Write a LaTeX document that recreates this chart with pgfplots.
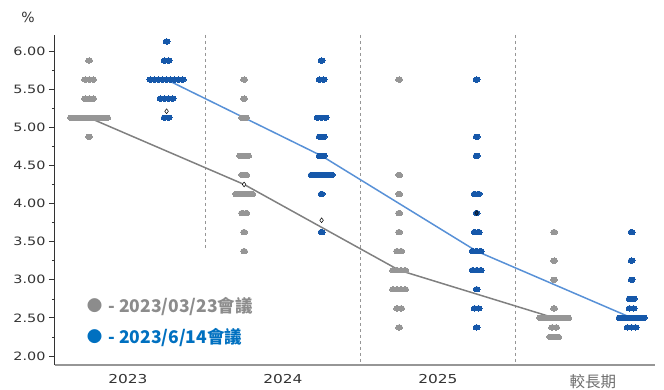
\documentclass[border=0pt]{standalone}
\usepackage{pgfplots}
\pgfplotsset{compat=1.18}
\usepackage{fontspec}
\setmainfont{DejaVu Sans}
\newfontfamily\tickfont[FakeStretch=1.25]{DejaVu Sans}
\newfontfamily\cjk{Noto Sans CJK TC}
\definecolor{dotgray}{RGB}{150,150,150}
\definecolor{dotblue}{RGB}{22,88,170}
\definecolor{linegray}{RGB}{128,128,128}
\definecolor{lineblue}{RGB}{88,145,215}
\definecolor{leggray}{RGB}{140,140,140}
\definecolor{legblue}{RGB}{0,112,192}
\definecolor{txt}{RGB}{51,51,51}
\definecolor{lrgray}{RGB}{110,110,110}
\begin{document}
\begin{tikzpicture}
\path[use as bounding box] (-55bp,-25bp) rectangle (609bp,365bp);
\begin{axis}[
  at={(0,0)}, anchor=south west,
  scale only axis, width=600bp, height=330bp,
  xmin=0.53, xmax=4.401, ymin=1.882, ymax=6.21,
  axis x line=bottom, axis y line=left,
  x axis line style={draw=dotgray, line width=1.2bp, -},
  y axis line style={draw=txt, line width=1bp, -},
  clip=false,
  xtick={1,2,3,4},
  xticklabels={2023,2024,2025,{\raisebox{2bp}{\cjk\fontsize{15.5bp}{17bp}\selectfont\color{lrgray}較長期}}},
  xtick style={draw=none},
  xticklabel style={font=\tickfont\fontsize{12.3bp}{14bp}\selectfont, text=txt},
  ytick={2,2.5,3,3.5,4,4.5,5,5.5,6},
  minor ytick={2.25,2.75,3.25,3.75,4.25,4.75,5.25,5.75},
  tick align=outside,
  major tick length=6bp, minor tick length=3bp,
  ytick style={draw=txt, line width=0.8bp},
  minor y tick style={draw=txt, line width=0.6bp},
  yticklabel style={font=\tickfont\fontsize{11.5bp}{13bp}\selectfont, text=txt},
  /pgf/number format/assume math mode=true,
  yticklabel={\pgfmathprintnumber[fixed,fixed zerofill,precision=2]{\tick}},
]
% separators
\draw[dotgray, dash pattern=on 3bp off 3bp, line width=0.6bp] (axis cs:1.5,6.21) -- (axis cs:1.5,3.39);
\draw[dotgray, dash pattern=on 3bp off 3bp, line width=0.6bp] (axis cs:2.5,6.21) -- (axis cs:2.5,1.882);
\draw[dotgray, dash pattern=on 3bp off 3bp, line width=0.6bp] (axis cs:3.5,6.21) -- (axis cs:3.5,1.882);
% median lines
\addplot[linegray, line width=1.5bp, no marks] coordinates {(0.75,5.125)(1.75,4.25)(2.75,3.125)(3.75,2.5)};
\addplot[lineblue, line width=1.5bp, no marks] coordinates {(1.25,5.625)(2.25,4.625)(3.25,3.375)(4.25,2.5)};
% March 2023 dots
\addplot[dotgray, only marks, mark=*, mark size=2.7bp, mark options={xscale=1.3, draw=dotgray, fill=dotgray, line width=0pt}] coordinates {
(0.75,5.875)
(0.724,5.625)(0.75,5.625)(0.776,5.625)
(0.724,5.375)(0.75,5.375)(0.776,5.375)
(0.633,5.125)(0.659,5.125)(0.685,5.125)(0.711,5.125)(0.737,5.125)(0.763,5.125)(0.789,5.125)(0.815,5.125)(0.841,5.125)(0.867,5.125)
(0.75,4.875)
(1.75,5.625)
(1.75,5.375)
(1.737,5.125)(1.763,5.125)
(1.724,4.625)(1.75,4.625)(1.776,4.625)
(1.737,4.375)(1.763,4.375)
(1.698,4.125)(1.724,4.125)(1.75,4.125)(1.776,4.125)(1.802,4.125)
(1.737,3.875)(1.763,3.875)
(1.75,3.625)
(1.75,3.375)
(2.75,5.625)
(2.75,4.375)
(2.75,4.125)
(2.75,3.875)
(2.75,3.625)
(2.737,3.375)(2.763,3.375)
(2.711,3.125)(2.737,3.125)(2.763,3.125)(2.789,3.125)
(2.711,2.875)(2.737,2.875)(2.763,2.875)(2.789,2.875)
(2.737,2.625)(2.763,2.625)
(2.75,2.375)
(3.75,3.625)
(3.75,3.25)
(3.75,3.0)
(3.75,2.625)
(3.659,2.5)(3.685,2.5)(3.711,2.5)(3.737,2.5)(3.763,2.5)(3.789,2.5)(3.815,2.5)(3.841,2.5)
(3.737,2.375)(3.763,2.375)
(3.724,2.25)(3.75,2.25)(3.776,2.25)
};
% June 2023 dots
\addplot[dotblue, only marks, mark=*, mark size=2.7bp, mark options={xscale=1.3, draw=dotblue, fill=dotblue, line width=0pt}] coordinates {
(1.25,6.125)
(1.237,5.875)(1.263,5.875)
(1.146,5.625)(1.172,5.625)(1.198,5.625)(1.224,5.625)(1.25,5.625)(1.276,5.625)(1.302,5.625)(1.328,5.625)(1.354,5.625)
(1.211,5.375)(1.237,5.375)(1.263,5.375)(1.289,5.375)
(1.237,5.125)(1.263,5.125)
(2.25,5.875)
(2.237,5.625)(2.263,5.625)
(2.224,5.125)(2.25,5.125)(2.276,5.125)
(2.237,4.875)(2.263,4.875)
(2.237,4.625)(2.263,4.625)
(2.185,4.375)(2.211,4.375)(2.237,4.375)(2.263,4.375)(2.289,4.375)(2.315,4.375)
(2.25,4.125)
(2.25,3.625)
(3.25,5.625)
(3.25,4.875)
(3.25,4.625)
(3.237,4.125)(3.263,4.125)
(3.25,3.875)
(3.237,3.625)(3.263,3.625)
(3.224,3.375)(3.25,3.375)(3.276,3.375)
(3.224,3.125)(3.25,3.125)(3.276,3.125)
(3.25,2.875)
(3.237,2.625)(3.263,2.625)
(3.25,2.375)
(4.25,3.625)
(4.25,3.25)
(4.25,3.0)
(4.237,2.75)(4.263,2.75)
(4.237,2.625)(4.263,2.625)
(4.172,2.5)(4.198,2.5)(4.224,2.5)(4.25,2.5)(4.276,2.5)(4.302,2.5)(4.328,2.5)
(4.224,2.375)(4.25,2.375)(4.276,2.375)
};
% small diamonds
\addplot[black, only marks, mark=diamond*, mark size=2.4bp, mark options={fill=white, draw=black, line width=0.5bp}] coordinates {(1.25,5.21)(1.75,4.25)(2.25,3.78)};
\addplot[black, only marks, mark=diamond*, mark size=2.4bp, mark options={fill=dotblue!60!black, draw=black, line width=0.4bp}] coordinates {(3.25,3.875)};
% texts
\node[font=\fontsize{14bp}{16bp}\selectfont, text=txt] at (axis cs:0.356,6.446) {\%};
\node[anchor=base west, inner sep=0pt, text=leggray, font=\cjk\bfseries\fontsize{17.5bp}{20bp}\selectfont] at (axis cs:0.735,2.577) {{\fontsize{15.5bp}{17bp}\selectfont\raisebox{0.3bp}{●}}\hspace{6bp}- 2023/03/23會議};
\node[anchor=base west, inner sep=0pt, text=legblue, font=\cjk\bfseries\fontsize{17.5bp}{20bp}\selectfont] at (axis cs:0.735,2.170) {{\fontsize{15.5bp}{17bp}\selectfont\raisebox{0.3bp}{●}}\hspace{6bp}- 2023/6/14會議};
\end{axis}
\end{tikzpicture}
\end{document}
